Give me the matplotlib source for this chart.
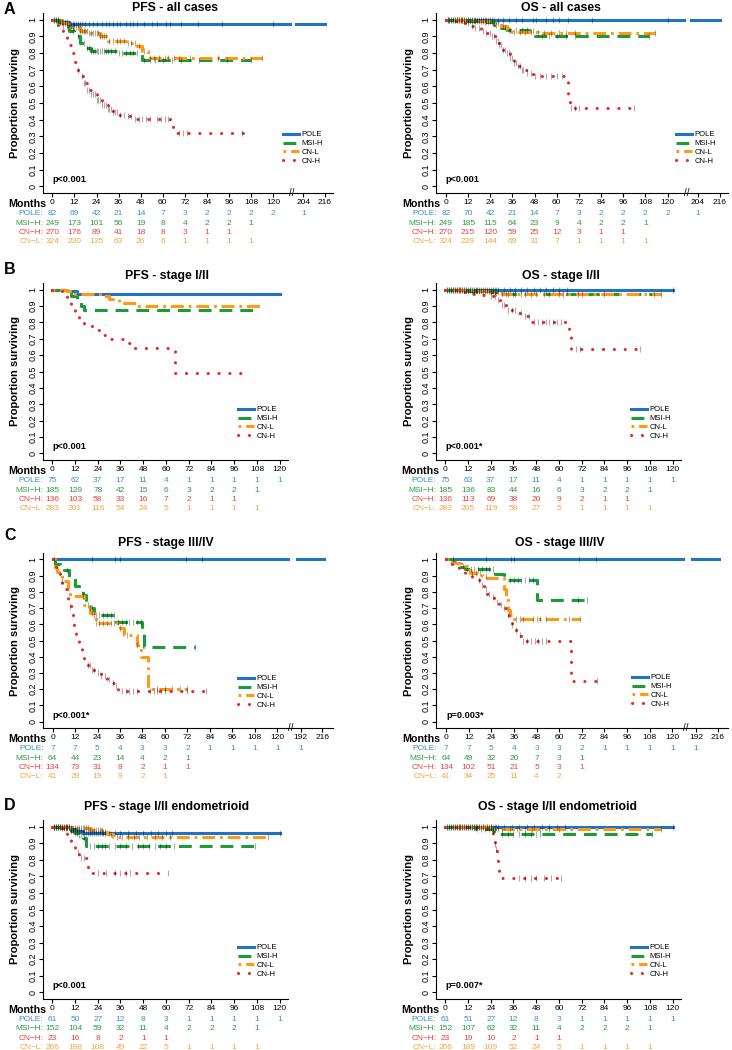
import numpy as np
import matplotlib
matplotlib.use("Agg")
import matplotlib.pyplot as plt

plt.rcParams['font.family'] = ['Liberation Sans', 'DejaVu Sans']

# ---------------- data ----------------
groups = ['POLE', 'MSI-H', 'CN-L', 'CN-H']            # legend order
table_groups = ['POLE', 'MSI-H', 'CN-H', 'CN-L']      # risk table order
table_names = ['POLE:', 'MSI\u2212H:', 'CN\u2212H:', 'CN\u2212L:']
yticks = [0, 0.1, 0.2, 0.3, 0.4, 0.5, 0.6, 0.7, 0.8, 0.9, 1]
ytick_labels = ['0', '0.1', '0.2', '0.3', '0.4', '0.5', '0.6', '0.7', '0.8', '0.9', '1']

months_std = [0, 12, 24, 36, 48, 60, 72, 84, 96, 108, 120]
months_a = [0, 12, 24, 36, 48, 60, 72, 84, 96, 108, 120, 204, 216]
months_c = [0, 12, 24, 36, 48, 60, 72, 84, 96, 108, 120, 192, 216]

# KM curves: (step times, survival after step, last follow-up)
# A - PFS all cases
a_pfs_pole = ([0, 4, 9], [1, .988, .974], 216)
a_pfs_msi = ([0, 3, 6, 9, 12, 15, 18, 21, 36, 49], [1, .985, .96, .93, .90, .86, .83, .815, .80, .757], 108)
a_pfs_cnl = ([0, 5, 10, 15, 20, 26, 30, 40, 46, 49, 52], [1, .98, .955, .935, .92, .90, .875, .86, .84, .81, .772], 114)
a_pfs_cnh = ([0, 2, 4, 6, 8, 10, 11.5, 13, 15, 17, 19, 21, 24, 27, 30, 33, 36, 40, 45, 64, 65.5],
             [1, .97, .94, .90, .85, .80, .745, .70, .66, .62, .58, .555, .52, .49, .465, .445, .43, .42, .405, .37, .32], 104)
# A - OS all cases
a_os_pole = ([0], [1.0], 216)
a_os_msi = ([0, 10, 20, 26, 30, 33, 45, 48], [1, .993, .985, .97, .95, .94, .93, .905], 110)
a_os_cnl = ([0, 15, 25, 30, 33, 36, 50], [1, .99, .98, .96, .94, .925, .92], 113)
a_os_cnh = ([0, 5, 10, 13, 16, 19, 22, 25, 27, 29, 31, 33, 35, 37, 39, 41, 44, 47, 66, 67],
            [1, .99, .98, .96, .95, .93, .92, .90, .87, .85, .82, .80, .77, .74, .72, .70, .68, .66, .55, .472], 102)
# B - PFS stage I/II
b_pfs_pole = ([0, 8, 13], [1, .99, .972], 120)
b_pfs_msi = ([0, 5, 8, 10, 13, 15, 17], [1, .995, .98, .96, .93, .90, .874], 107)
b_pfs_cnl = ([0, 8, 12, 25, 30, 35, 44], [1, .99, .972, .96, .94, .92, .90], 111)
b_pfs_cnh = ([0, 5, 8, 10, 12, 14, 17, 21, 26, 31, 38, 43, 64.5],
             [1, .98, .945, .905, .86, .82, .785, .755, .72, .70, .675, .646, .488], 103)
# B - OS stage I/II
b_os_pole = ([0], [1.0], 120)
b_os_msi = ([0, 12, 24, 29], [1, .992, .985, .971], 110)
b_os_cnl = ([0, 15, 26, 30], [1, .99, .98, .975], 114)
b_os_cnh = ([0, 7, 11, 17, 23, 27, 29, 32, 38, 41, 45, 65.5, 66.5],
            [1, .985, .975, .965, .958, .935, .905, .875, .86, .84, .80, .72, .64], 103)
# C - PFS stage III/IV
c_pfs_pole = ([0], [1.0], 218)
c_pfs_msi = ([0, 1.5, 4, 6, 9, 12, 14, 16, 18, 20, 22, 34, 48, 49],
             [1, .975, .955, .935, .885, .835, .81, .78, .74, .70, .655, .615, .54, .46], 76)
c_pfs_cnl = ([0, 1.5, 2.5, 5, 8, 9.5, 17, 20, 22, 23, 36, 38, 45, 47, 51],
             [1, .955, .925, .865, .815, .775, .72, .67, .63, .605, .575, .535, .47, .40, .20], 72)
c_pfs_cnh = ([0, 1, 2, 4, 5, 7, 8.5, 9.5, 10.5, 11.5, 12.5, 13, 14, 15.5, 17, 18.5, 21, 23.5, 26, 29, 31, 33, 35],
             [1, .97, .935, .885, .855, .815, .75, .71, .66, .585, .535, .50, .455, .415, .385, .35, .32, .30, .28, .26, .24, .22, .19], 82)
# C - OS stage III/IV
c_os_pole = ([0], [1.0], 218)
c_os_msi = ([0, 3, 5, 7, 10, 26, 31, 48], [1, .985, .97, .955, .94, .91, .875, .75], 75)
c_os_cnl = ([0, 3, 8, 11, 12.5, 19, 22, 31, 32, 33, 34, 36],
            [1, .98, .96, .935, .915, .90, .885, .82, .75, .69, .655, .63], 71)
c_os_cnh = ([0, 2, 4, 7, 10, 14, 18, 20, 22, 23.5, 25.5, 28, 30, 32, 33.5, 35, 37, 38.5, 40, 66.5],
            [1, .975, .953, .93, .902, .872, .841, .82, .79, .77, .74, .72, .70, .657, .626, .596, .565, .535, .50, .25], 80)
# D - PFS stage I/II endometrioid
d_pfs_pole = ([0, 5, 10, 13, 16], [1, .995, .985, .975, .962], 120)
d_pfs_msi = ([0, 5, 10, 12, 14, 16, 18], [1, .99, .975, .96, .95, .93, .882], 107)
d_pfs_cnl = ([0, 10, 20, 27, 29, 32], [1, .99, .98, .97, .955, .935], 114)
d_pfs_cnh = ([0, 5, 8, 10, 12, 14, 18.5, 19], [1, .965, .92, .875, .845, .81, .765, .718], 61)
# D - OS stage I/II endometrioid
d_os_pole = ([0], [1.0], 120)
d_os_msi = ([0, 5, 16, 25, 29], [1, .995, .985, .975, .955], 109)
d_os_cnl = ([0, 20, 26], [1, .995, .986], 114)
d_os_cnh = ([0, 22, 25, 26, 27, 27.5, 28, 28.5, 29], [1, .99, .945, .895, .865, .825, .77, .72, .688], 61)

# censoring times
a_pfs_pole_c = [1, 2, 3, 4, 5, 6, 7, 8, 9, 10, 11, 12, 13, 14, 15, 16, 18, 20, 22, 24, 27, 29, 31, 33, 35, 37, 40, 42, 44, 46, 50, 54, 57, 62, 64, 70, 79, 92, 120]
a_pfs_msi_c = [2, 4, 6, 8, 11, 14, 17, 19, 20, 21, 22, 23, 24, 25, 26, 27, 28, 29, 30, 32, 34, 36, 38, 40, 42, 44, 46, 50, 53, 56, 60, 65, 70, 80, 95, 108]
a_pfs_cnl_c = [1, 3, 5, 7, 8, 9, 10, 11, 12, 13, 14, 15, 16, 17, 18, 19, 20, 21, 22, 23, 24, 25, 26, 27, 28, 29, 31, 33, 35, 37, 39, 41, 43, 45, 47, 50, 53, 55, 58, 61, 63, 66, 69, 75, 90, 114]
a_pfs_cnh_c = [14, 16, 17, 18, 19, 20, 21, 22, 23, 24, 25, 26, 27, 28, 29, 30, 31, 32, 33, 34, 35, 37, 39, 41, 43, 45, 47, 49, 51, 53, 57, 59, 61, 63, 69, 71, 73, 103]
a_os_pole_c = [1, 2, 3, 4, 5, 6, 7, 8, 9, 10, 11, 12, 13, 14, 15, 16, 17, 18, 19, 20, 21, 22, 23, 24, 25, 26, 28, 31, 34, 38, 41, 47, 49, 54, 58, 61, 66, 79, 120]
a_os_msi_c = [1, 3, 5, 7, 9, 11, 13, 15, 17, 19, 21, 23, 25, 27, 32, 35, 38, 41, 44, 47, 52, 56, 60, 65, 70, 110]
a_os_cnl_c = [2, 4, 6, 8, 10, 12, 14, 16, 18, 20, 22, 24, 26, 28, 31, 34, 37, 40, 43, 46, 50, 53, 57, 61, 65, 70, 113]
a_os_cnh_c = [12, 14, 16, 18, 20, 22, 24, 25, 26, 27, 28, 29, 30, 31, 32, 33, 34, 35, 36, 37, 38, 39, 40, 41, 42, 44, 46, 48, 51, 54, 57, 60, 63, 68, 70, 72, 102]
b_os_pole_c = [1, 2, 3, 4, 5, 6, 7, 8, 9, 10, 11, 12, 13, 14, 15, 16, 17, 18, 19, 20, 21, 22, 23, 24, 25, 26, 27, 28, 31, 34, 37, 40, 43, 47, 50, 53, 57, 60, 64, 120]
b_os_msi_c = [2, 4, 6, 8, 10, 12, 14, 16, 18, 20, 22, 24, 26, 28, 32, 36, 40, 45, 52, 60, 72, 84, 110]
b_os_cnl_c = [1, 3, 5, 7, 9, 11, 13, 15, 17, 19, 21, 23, 25, 27, 30, 33, 37, 42, 48, 55, 62, 70, 114]
b_os_cnh_c = [24, 26, 28, 30, 31, 33, 35, 37, 40, 42, 44, 47, 49, 51, 53, 55, 57, 59, 61, 69, 71, 103]
c_pfs_pole_c = [1, 21, 33.5, 36, 71, 80]
c_pfs_msi_c = [7.5, 20, 21, 22, 23, 25, 27, 29, 31, 33, 35, 37, 39, 41, 43, 45, 47, 76]
c_pfs_cnl_c = [5, 16, 19, 21, 23, 25, 27, 29, 31, 33, 36, 40, 45, 56, 60, 64, 68, 72]
c_pfs_cnh_c = [9.5, 19, 20, 21, 22, 24, 26, 28, 30, 32, 34, 37, 39, 41, 43, 45, 52, 54, 56, 58, 60, 72, 82]
c_os_pole_c = [3.5, 21, 34.5, 36, 70.5, 79.5]
c_os_msi_c = [11, 13, 15, 17, 19, 21, 23, 25, 34, 36, 38, 40, 42, 44, 46, 70, 75]
c_os_cnl_c = [9, 14, 16, 18, 21, 37, 39, 41, 46, 48, 50, 53, 65, 71]
c_os_cnh_c = [17.5, 19, 21, 23, 25, 27, 29, 31, 33, 35, 37, 39, 41, 43, 45, 47, 49, 51, 53, 80]
d_pfs_pole_c = [1, 2, 3, 4, 5, 6, 7, 8, 9, 10, 11, 12, 13, 14, 15, 16, 17, 18, 19, 20, 21, 22, 23, 24, 25, 26, 27, 28, 30, 33, 36, 40, 44, 48, 52, 56, 60, 63, 120]
d_pfs_msi_c = [1, 2, 3, 4, 5, 6, 7, 8, 9, 10, 11, 12, 13, 14, 15, 17, 20, 22, 24, 26, 28, 30, 33, 36, 39, 42, 45, 48, 51, 54, 57, 60, 64, 107]
d_pfs_cnl_c = [1, 2, 3, 4, 5, 6, 7, 8, 9, 10, 11, 12, 13, 14, 15, 16, 17, 18, 19, 20, 21, 22, 23, 24, 25, 26, 27, 28, 31, 34, 37, 40, 43, 46, 50, 54, 58, 62, 114]
d_pfs_cnh_c = [13.5, 15, 17, 24, 28.5, 33, 36, 39, 41, 61]
d_os_pole_c = [1, 2, 3, 4, 5, 6, 7, 8, 9, 10, 11, 12, 13, 14, 15, 16, 17, 18, 19, 20, 21, 22, 23, 24, 25, 26, 27, 28, 31, 35, 39, 43, 47, 51, 55, 59, 63, 120]
d_os_msi_c = [1, 3, 5, 7, 9, 11, 13, 15, 17, 19, 21, 23, 25, 30, 33, 36, 39, 42, 45, 48, 50, 109]
d_os_cnl_c = [2, 4, 6, 8, 10, 12, 14, 16, 18, 20, 22, 24, 26, 28, 30, 34, 38, 42, 46, 50, 55, 60, 114]
d_os_cnh_c = [26, 27, 39, 42, 45, 48, 52, 56, 61]

# numbers at risk
a_pfs_n_pole = [82, 69, 42, 21, 14, 7, 3, 2, 2, 2, 2, 1]
a_pfs_n_msi = [249, 173, 101, 56, 19, 8, 4, 2, 2, 1]
a_pfs_n_cnh = [270, 176, 89, 41, 18, 8, 3, 1, 1]
a_pfs_n_cnl = [324, 230, 135, 63, 26, 6, 1, 1, 1, 1]
a_os_n_pole = [82, 70, 42, 21, 14, 7, 3, 2, 2, 2, 2, 1]
a_os_n_msi = [249, 185, 115, 64, 23, 9, 4, 2, 2, 1]
a_os_n_cnh = [270, 215, 120, 59, 25, 12, 3, 1, 1]
a_os_n_cnl = [324, 239, 144, 69, 31, 7, 1, 1, 1, 1]
b_pfs_n_pole = [75, 62, 37, 17, 11, 4, 1, 1, 1, 1, 1]
b_pfs_n_msi = [185, 129, 78, 42, 15, 6, 3, 2, 2, 1]
b_pfs_n_cnh = [136, 103, 58, 33, 16, 7, 2, 1, 1]
b_pfs_n_cnl = [283, 201, 116, 54, 24, 5, 1, 1, 1, 1]
b_os_n_pole = [75, 63, 37, 17, 11, 4, 1, 1, 1, 1, 1]
b_os_n_msi = [185, 136, 83, 44, 16, 6, 3, 2, 2, 1]
b_os_n_cnh = [136, 113, 69, 38, 20, 9, 2, 1, 1]
b_os_n_cnl = [283, 205, 119, 58, 27, 5, 1, 1, 1, 1]
c_pfs_n_pole = [7, 7, 5, 4, 3, 3, 2, 1, 1, 1, 1, 1]
c_pfs_n_msi = [64, 44, 23, 14, 4, 2, 1]
c_pfs_n_cnh = [134, 73, 31, 8, 2, 1, 1]
c_pfs_n_cnl = [41, 29, 19, 9, 2, 1]
c_os_n_pole = [7, 7, 5, 4, 3, 3, 2, 1, 1, 1, 1, 1]
c_os_n_msi = [64, 49, 32, 20, 7, 3, 1]
c_os_n_cnh = [134, 102, 51, 21, 5, 3, 1]
c_os_n_cnl = [41, 34, 25, 11, 4, 2]
d_pfs_n_pole = [61, 50, 27, 12, 8, 3, 1, 1, 1, 1, 1]
d_pfs_n_msi = [152, 104, 59, 32, 11, 4, 2, 2, 2, 1]
d_pfs_n_cnh = [23, 16, 8, 2, 1, 1]
d_pfs_n_cnl = [266, 188, 108, 49, 22, 5, 1, 1, 1, 1]
d_os_n_pole = [61, 51, 27, 12, 8, 3, 1, 1, 1, 1, 1]
d_os_n_msi = [152, 107, 62, 32, 11, 4, 2, 2, 2, 1]
d_os_n_cnh = [23, 19, 10, 2, 1, 1]
d_os_n_cnl = [266, 189, 109, 52, 24, 5, 1, 1, 1, 1]

# ---------------- style ----------------
W, H = 732, 1050
col = {'POLE': '#1f74c4', 'MSI-H': '#1d9a3a', 'CN-L': '#ff9a16', 'CN-H': '#e8262a'}
tabcol = {'POLE': '#3a8ed4', 'MSI-H': '#2c9c46', 'CN-H': '#e8443e', 'CN-L': '#f5a540'}
lstyle = {'POLE': '-', 'MSI-H': (0, (4.2, 2.6)), 'CN-L': (0, (0.9, 1.6, 4.2, 1.6)), 'CN-H': (0, (0.05, 3.5))}

# broken x axis (A and C)
brk_a = dict(cut=130, tref=204, dref=136.5, scale=0.983, gap=(129, 200), mark=130.3)
brk_c = dict(cut=130, tref=192, dref=132.5, scale=0.48, gap=(125.5, 188), mark=127.3)


def disp(x, brk):
    x = np.asarray(x, dtype=float)
    if brk is None:
        return x
    return np.where(x <= brk['cut'], x, brk['dref'] + (x - brk['tref']) * brk['scale'])


def step_xy(curve, brk):
    t, s, end = curve
    xs, ys = [], []
    for i in range(len(t)):
        nxt = t[i + 1] if i + 1 < len(t) else end
        xs += [t[i], nxt]
        ys += [s[i], s[i]]
    if brk is not None:
        g0, g1 = brk['gap']
        nx, ny = [xs[0]], [ys[0]]
        for i in range(1, len(xs)):
            if xs[i - 1] < g0 and xs[i] > g1 and ys[i - 1] == ys[i]:
                nx += [g0, np.nan, g1]
                ny += [ys[i], np.nan, ys[i]]
            nx.append(xs[i])
            ny.append(ys[i])
        xs, ys = nx, ny
    xs = np.array(xs, dtype=float)
    good = ~np.isnan(xs)
    out = xs.copy()
    out[good] = disp(xs[good], brk)
    return out, np.array(ys, dtype=float)


def surv_at(curve, x):
    t, s, _ = curve
    idx = np.searchsorted(t, x, side='right') - 1
    return np.asarray(s)[idx]


panels = [
    dict(title='PFS - all cases', tpos=(175, 8), box=(43, 13, 333, 193), xlim=(-5.1, 152.6),
         months=months_a, brk=brk_a, p='p<0.001', leg=(283, 148), letter=('A', 9),
         curves=dict(zip(groups, [a_pfs_pole, a_pfs_msi, a_pfs_cnl, a_pfs_cnh])),
         cens=dict(zip(groups, [a_pfs_pole_c, a_pfs_msi_c, a_pfs_cnl_c, a_pfs_cnh_c])),
         risk=[a_pfs_n_pole, a_pfs_n_msi, a_pfs_n_cnh, a_pfs_n_cnl]),
    dict(title='OS - all cases', tpos=(561, 8), box=(436, 13, 728, 193), xlim=(-5.3, 152.7),
         months=months_a, brk=brk_a, p='p<0.001', leg=(676, 148), letter=None,
         curves=dict(zip(groups, [a_os_pole, a_os_msi, a_os_cnl, a_os_cnh])),
         cens=dict(zip(groups, [a_os_pole_c, a_os_msi_c, a_os_cnl_c, a_os_cnh_c])),
         risk=[a_os_n_pole, a_os_n_msi, a_os_n_cnh, a_os_n_cnl]),
    dict(title='PFS - stage I/II', tpos=(167, 276), box=(43, 283, 288, 460), xlim=(-4.9, 124.4),
         months=months_std, brk=None, p='p<0.001', leg=(238, 423), letter=('B', 270),
         curves=dict(zip(groups, [b_pfs_pole, b_pfs_msi, b_pfs_cnl, b_pfs_cnh])),
         cens=dict(zip(groups, [[], [], [], []])),
         risk=[b_pfs_n_pole, b_pfs_n_msi, b_pfs_n_cnh, b_pfs_n_cnl]),
    dict(title='OS - stage I/II', tpos=(561, 276), box=(436, 283, 681, 460), xlim=(-4.9, 124.4),
         months=months_std, brk=None, p='p<0.001*', leg=(631, 423), letter=None,
         curves=dict(zip(groups, [b_os_pole, b_os_msi, b_os_cnl, b_os_cnh])),
         cens=dict(zip(groups, [b_os_pole_c, b_os_msi_c, b_os_cnl_c, b_os_cnh_c])),
         risk=[b_os_n_pole, b_os_n_msi, b_os_n_cnh, b_os_n_cnl]),
    dict(title='PFS - stage III/IV', tpos=(166, 543), box=(43, 553, 333, 728), xlim=(-5.1, 149.7),
         months=months_c, brk=brk_c, p='p<0.001*', leg=(238, 692), letter=('C', 536),
         curves=dict(zip(groups, [c_pfs_pole, c_pfs_msi, c_pfs_cnl, c_pfs_cnh])),
         cens=dict(zip(groups, [c_pfs_pole_c, c_pfs_msi_c, c_pfs_cnl_c, c_pfs_cnh_c])),
         risk=[c_pfs_n_pole, c_pfs_n_msi, c_pfs_n_cnh, c_pfs_n_cnl]),
    dict(title='OS - stage III/IV', tpos=(560, 543), box=(436, 553, 728, 728), xlim=(-5.3, 149.5),
         months=months_c, brk=brk_c, p='p=0.003*', leg=(632, 691), letter=None,
         curves=dict(zip(groups, [c_os_pole, c_os_msi, c_os_cnl, c_os_cnh])),
         cens=dict(zip(groups, [c_os_pole_c, c_os_msi_c, c_os_cnl_c, c_os_cnh_c])),
         risk=[c_os_n_pole, c_os_n_msi, c_os_n_cnh, c_os_n_cnl]),
    dict(title='PFS - stage I/II endometrioid', tpos=(167, 807), box=(43, 820, 288, 999), xlim=(-4.9, 124.4),
         months=months_std, brk=None, p='p<0.001', leg=(238, 961), letter=('D', 805),
         curves=dict(zip(groups, [d_pfs_pole, d_pfs_msi, d_pfs_cnl, d_pfs_cnh])),
         cens=dict(zip(groups, [d_pfs_pole_c, d_pfs_msi_c, d_pfs_cnl_c, d_pfs_cnh_c])),
         risk=[d_pfs_n_pole, d_pfs_n_msi, d_pfs_n_cnh, d_pfs_n_cnl]),
    dict(title='OS - stage I/II endometrioid', tpos=(558, 807), box=(436, 820, 681, 999), xlim=(-4.9, 124.4),
         months=months_std, brk=None, p='p=0.007*', leg=(631, 961), letter=None,
         curves=dict(zip(groups, [d_os_pole, d_os_msi, d_os_cnl, d_os_cnh])),
         cens=dict(zip(groups, [d_os_pole_c, d_os_msi_c, d_os_cnl_c, d_os_cnh_c])),
         risk=[d_os_n_pole, d_os_n_msi, d_os_n_cnh, d_os_n_cnl]),
]

fig = plt.figure(figsize=(W / 100, H / 100), dpi=100)

row_dy = [14.8, 21.6, 28.4, 34.9]   # points below x axis
months_dy = 7.9

for p in panels:
    x0, yt, x1, yb = p['box']
    ax = fig.add_axes([x0 / W, 1 - yb / H, (x1 - x0) / W, (yb - yt) / H])
    brk = p['brk']
    for g in groups:
        xs, ys = step_xy(p['curves'][g], brk)
        ln, = ax.plot(xs, ys, color=col[g], lw=2.2, linestyle=lstyle[g], label=g, zorder=3)
        if g == 'CN-H':
            ln.set_dash_capstyle('round')
    for g in groups:
        c = p['cens'][g]
        if len(c):
            ax.plot(disp(c, brk), surv_at(p['curves'][g], c), ls='none', marker='|',
                    ms=4, mew=0.8, color='k', alpha=0.32, zorder=4)

    ax.set_xlim(*p['xlim'])
    ax.set_ylim(-0.04, 1.04)
    for s in ['top', 'right']:
        ax.spines[s].set_visible(False)
    for s in ['left', 'bottom']:
        ax.spines[s].set_linewidth(0.8)
    xpos = disp(p['months'], brk)
    ax.set_xticks(xpos, [str(m) for m in p['months']])
    ax.set_yticks(yticks, ytick_labels)
    ax.tick_params(axis='x', length=3, width=0.8, labelsize=6, pad=1.5)
    ax.tick_params(axis='y', length=3, width=0.8, labelsize=6.5, pad=1, labelrotation=90)
    for lab in ax.get_yticklabels():
        lab.set_va('center')
    ax.set_ylabel('Proportion surviving', fontsize=8, fontweight='bold')
    ax.yaxis.set_label_coords(-22.5 / (x1 - x0), 0.5)

    if brk is not None:
        ax.text(brk['mark'], 0, '//', transform=ax.get_xaxis_transform(), ha='center', va='center',
                fontsize=7, clip_on=False)

    ax.text(0, 0.04, p['p'], fontsize=6.6, fontweight='bold', ha='left', va='center')

    lx = (p['leg'][0] - x0) / (x1 - x0)
    ly = (yb - p['leg'][1]) / (yb - yt)
    ax.legend(loc='center left', bbox_to_anchor=(lx, ly), frameon=False, fontsize=5.5,
              handlelength=2.1, handletextpad=0.3, labelspacing=0.2, borderpad=0, borderaxespad=0)

    # risk table
    ax.annotate('Months', xy=(0, 0), xycoords=('data', 'axes fraction'), xytext=(-4.2, -months_dy),
                textcoords='offset points', ha='right', va='center', fontsize=7.7, fontweight='bold',
                annotation_clip=False)
    for gi, g in enumerate(table_groups):
        ax.annotate(table_names[gi], xy=(0, 0), xycoords=('data', 'axes fraction'),
                    xytext=(-6.5, -row_dy[gi]), textcoords='offset points', ha='right', va='center',
                    fontsize=6, color=tabcol[g], annotation_clip=False)
        for v, xp in zip(p['risk'][gi], xpos):
            ax.annotate(str(v), xy=(xp, 0), xycoords=('data', 'axes fraction'),
                        xytext=(0, -row_dy[gi]), textcoords='offset points', ha='center', va='center',
                        fontsize=6, color=tabcol[g], annotation_clip=False)

    fig.text(p['tpos'][0] / W, 1 - p['tpos'][1] / H, p['title'], ha='center', va='center',
             fontsize=8.8, fontweight='bold')
    if p['letter'] is not None:
        fig.text(4 / W, 1 - p['letter'][1] / H, p['letter'][0], ha='left', va='center',
                 fontsize=11.5, fontweight='bold')

fig.savefig('out.png', dpi=100)
